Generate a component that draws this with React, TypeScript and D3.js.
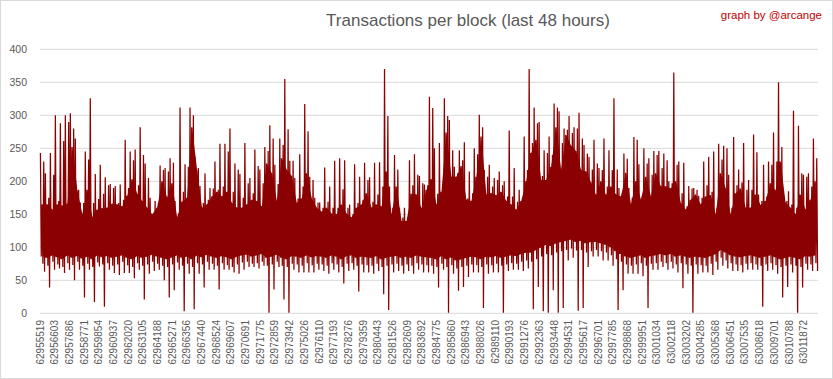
import React from "react";
import * as d3 from "d3";

const W = 833;
const H = 379;

const TITLE = "Transactions per block (last 48 hours)";
const CREDIT = "graph by @arcange";

const firstBlock = 62955519;
const bucketSize = 368; // blocks per bucket (≈5px)

const yTicks = [0, 50, 100, 150, 200, 250, 300, 350, 400];

const xLabels = [
  62955519, 62956603, 62957686, 62958771, 62959854, 62960937, 62962020, 62963105,
  62964188, 62965271, 62966356, 62967440, 62968524, 62969607, 62970691, 62971775,
  62972859, 62973942, 62975026, 62976110, 62977193, 62978276, 62979359, 62980443,
  62981526, 62982609, 62983692, 62984775, 62985860, 62986943, 62988026, 62989110,
  62990193, 62991276, 62992363, 62993448, 62994531, 62995617, 62996701, 62997785,
  62998868, 62999951, 63001034, 63002118, 63003202, 63004285, 63005368, 63006451,
  63007535, 63008618, 63009701, 63010788, 63011872,
];

// per-bucket maximum transactions
const highValues = [
  243, 212, 243, 300, 288, 300, 303, 265, 168, 245, 326, 211, 225, 206, 196, 193,
  195, 263, 245, 248, 282, 227, 175, 170, 224, 220, 235, 170, 312, 226, 312, 237,
  193, 212, 190, 230, 257, 257, 280, 227, 211, 258, 205, 248, 218, 252, 285, 225,
  265, 355, 231, 205, 241, 317, 207, 175, 168, 221, 192, 231, 235, 232, 165, 226,
  207, 228, 206, 228, 229, 370, 192, 240, 160, 160, 232, 241, 208, 195, 328, 250,
  258, 326, 293, 222, 247, 259, 215, 250, 301, 217, 225, 205, 215, 200, 277, 220,
  187, 268, 370, 312, 290, 247, 268, 318, 306, 280, 299, 282, 304, 255, 237, 263,
  220, 265, 247, 326, 190, 242, 190, 267, 226, 250, 235, 246, 246, 242, 200, 365,
  230, 228, 193, 190, 178, 230, 237, 245, 257, 254, 210, 267, 218, 258, 202, 271,
  180, 225, 230, 274, 350, 180, 185, 307, 284, 210, 212, 265,
];

// per-bucket second-highest spike
const secondHighValues = [
  230, 175, 210, 170, 261, 290, 280, 187, 167, 233, 167, 173, 181, 194, 190, 167,
  172, 190, 232, 194, 240, 205, 151, 167, 217, 215, 228, 151, 184, 222, 300, 220,
  167, 172, 189, 187, 192, 245, 184, 218, 175, 197, 182, 223, 197, 246, 265, 196,
  255, 279, 231, 174, 192, 276, 202, 168, 160, 169, 160, 160, 188, 160, 150, 167,
  172, 202, 169, 180, 192, 299, 160, 218, 145, 145, 194, 210, 197, 194, 311, 181,
  192, 299, 247, 212, 232, 174, 182, 241, 282, 207, 192, 202, 194, 177, 177, 169,
  175, 217, 258, 288, 208, 243, 240, 312, 258, 278, 273, 280, 265, 242, 218, 227,
  217, 192, 217, 218, 182, 234, 175, 263, 177, 227, 210, 240, 220, 232, 197, 225,
  182, 162, 189, 187, 175, 194, 184, 160, 233, 250, 160, 194, 198, 187, 187, 244,
  170, 177, 225, 230, 252, 170, 165, 160, 212, 207, 192, 235,
];

// per-bucket typical top of the dense mass
const typicalHighValues = [
  165, 165, 157, 165, 163, 166, 252, 186, 150, 187, 146, 157, 159, 160, 166, 165,
  162, 178, 203, 181, 170, 160, 150, 160, 200, 175, 197, 145, 169, 175, 282, 217,
  160, 165, 177, 184, 177, 184, 167, 160, 160, 165, 172, 170, 162, 227, 212, 170,
  235, 217, 208, 167, 174, 212, 174, 160, 154, 160, 151, 150, 165, 151, 145, 160,
  165, 182, 160, 165, 162, 215, 150, 192, 140, 140, 181, 180, 159, 187, 203, 165,
  184, 274, 207, 207, 223, 172, 170, 207, 268, 180, 182, 179, 184, 170, 165, 157,
  170, 200, 243, 263, 202, 202, 222, 282, 217, 270, 254, 246, 217, 215, 198, 179,
  200, 179, 192, 180, 177, 213, 165, 200, 172, 207, 177, 212, 192, 192, 189, 200,
  167, 157, 172, 180, 165, 177, 179, 150, 212, 189, 150, 182, 189, 160, 160, 180,
  164, 170, 197, 186, 230, 168, 160, 150, 180, 157, 172, 200,
];

// per-bucket minimum transactions
const lowValues = [
  63, 39, 66, 68, 61, 66, 50, 66, 24, 66, 17, 71, 10, 66, 61, 58,
  61, 61, 53, 66, 21, 60, 64, 66, 50, 24, 35, 66, 3, 60, 6, 60,
  39, 66, 66, 36, 66, 66, 62, 60, 66, 70, 70, 68, 72, 1, 36, 70,
  21, 1, 66, 62, 62, 62, 62, 66, 64, 60, 66, 62, 45, 64, 66, 33,
  62, 62, 60, 64, 29, 5, 62, 64, 60, 64, 60, 66, 62, 62, 60, 39,
  66, 1, 60, 34, 40, 55, 62, 62, 8, 60, 62, 62, 1, 64, 66, 66,
  64, 68, 6, 40, 3, 1, 35, 1, 8, 80, 84, 4, 8, 70, 86, 86,
  80, 80, 72, 5, 35, 60, 60, 60, 56, 8, 66, 66, 70, 66, 68, 62,
  38, 60, 1, 60, 62, 62, 58, 66, 72, 68, 64, 64, 62, 66, 66, 66,
  10, 64, 66, 60, 24, 40, 62, 1, 39, 66, 64, 64,
];

// per-bucket second-lowest dip
const secondLowValues = [
  75, 72, 78, 74, 70, 76, 73, 78, 72, 75, 70, 77, 74, 76, 72, 74,
  78, 73, 70, 76, 72, 74, 78, 75, 72, 70, 74, 77, 72, 75, 70, 76,
  74, 78, 75, 72, 76, 73, 70, 74, 77, 78, 75, 76, 78, 72, 74, 78,
  72, 70, 75, 74, 72, 76, 73, 75, 74, 72, 76, 74, 70, 75, 76, 72,
  74, 73, 72, 75, 70, 72, 74, 75, 72, 74, 72, 76, 74, 73, 72, 70,
  75, 70, 73, 68, 70, 72, 74, 73, 70, 74, 73, 75, 72, 74, 76, 75,
  78, 80, 78, 82, 86, 90, 88, 92, 94, 96, 98, 95, 96, 92, 94, 96,
  94, 92, 88, 82, 78, 74, 72, 74, 76, 72, 75, 76, 78, 76, 78, 74,
  76, 74, 72, 74, 73, 72, 75, 78, 84, 80, 76, 74, 73, 75, 76, 74,
  72, 74, 76, 73, 70, 72, 74, 72, 70, 75, 74, 76,
];

// per-bucket typical bottom of the dense mass
const typicalLowValues = [
  86, 84, 88, 85, 82, 88, 84, 87, 83, 86, 82, 88, 85, 87, 84, 86,
  88, 84, 82, 87, 84, 86, 89, 86, 84, 82, 85, 88, 84, 86, 82, 88,
  85, 89, 86, 84, 87, 85, 82, 86, 88, 89, 86, 88, 90, 84, 86, 89,
  84, 82, 87, 86, 84, 88, 85, 87, 86, 84, 88, 86, 82, 87, 88, 84,
  86, 85, 84, 87, 82, 84, 86, 87, 84, 86, 84, 88, 86, 85, 84, 82,
  87, 82, 85, 80, 82, 84, 86, 85, 82, 86, 85, 87, 84, 86, 88, 87,
  90, 92, 92, 96, 100, 104, 102, 106, 108, 110, 112, 108, 110, 106, 108, 108,
  106, 104, 100, 94, 90, 86, 84, 86, 88, 84, 87, 88, 90, 88, 90, 86,
  88, 86, 84, 86, 85, 84, 87, 90, 96, 92, 88, 86, 85, 87, 88, 86,
  84, 86, 88, 85, 82, 84, 86, 84, 82, 87, 86, 88,
];

const RED = "#8b0000";
const GREY_TEXT = "#595959";
const GRID = "#d9d9d9";
const FONT = "'Liberation Sans', Arial, sans-serif";

type P = { b: number; v: number };
type C = { b: number; top: number; bottom: number };

export default function App() {
  const n = highValues.length;
  const x = d3
    .scaleLinear()
    .domain([firstBlock, firstBlock + n * bucketSize])
    .range([40, 818]);
  const y = d3.scaleLinear().domain([0, 400]).range([313.3, 49.3]);

  const seq: P[] = [];
  const core: C[] = [];
  for (let i = 0; i < n; i++) {
    const b0 = firstBlock + i * bucketSize;
    const vals = [
      highValues[i],
      typicalLowValues[i],
      typicalHighValues[i],
      secondLowValues[i],
      secondHighValues[i],
      lowValues[i],
    ];
    vals.forEach((v, j) => seq.push({ b: b0 + (bucketSize * (2 * j + 1)) / 12, v }));
    const top = Math.min(highValues[i], secondHighValues[i], typicalHighValues[i]);
    const bottom = Math.max(lowValues[i], secondLowValues[i], typicalLowValues[i]);
    core.push({ b: b0 + bucketSize / 2, top, bottom });
  }
  const line = d3
    .line<P>()
    .x((d) => x(d.b))
    .y((d) => y(d.v));
  const area = d3
    .area<C>()
    .x((d) => x(d.b))
    .y0((d) => y(d.bottom))
    .y1((d) => y(d.top));

  return (
    <svg
      width={W}
      height={H}
      style={{ position: "absolute", left: 0, top: 0, display: "block", background: "#fff" }}
    >
      <rect x={0.5} y={0.5} width={W - 1} height={H - 1} fill="#fff" stroke={GRID} />
      <text x={468} y={26} textAnchor="middle" fontFamily={FONT} fontSize={17} fill={GREY_TEXT}>
        {TITLE}
      </text>
      <text x={822} y={19} textAnchor="end" fontFamily={FONT} fontSize={11.5} fill="#c00000">
        {CREDIT}
      </text>
      {yTicks.map((t) => (
        <g key={t}>
          <line x1={40} x2={818} y1={y(t)} y2={y(t)} stroke={GRID} strokeWidth={1} />
          <text
            x={27}
            y={y(t)}
            dy="0.35em"
            textAnchor="end"
            fontFamily={FONT}
            fontSize={10.5}
            fill={GREY_TEXT}
          >
            {t}
          </text>
        </g>
      ))}
      <path d={area(core) || ""} fill={RED} />
      <path d={line(seq) || ""} fill="none" stroke={RED} strokeWidth={1.25} strokeLinejoin="bevel" />
      {xLabels.map((b) => (
        <text
          key={b}
          transform={`translate(${x(b)},${320}) rotate(-90)`}
          dy="0.35em"
          textAnchor="end"
          fontFamily={FONT}
          fontSize={10}
          fill={GREY_TEXT}
        >
          {b}
        </text>
      ))}
    </svg>
  );
}
